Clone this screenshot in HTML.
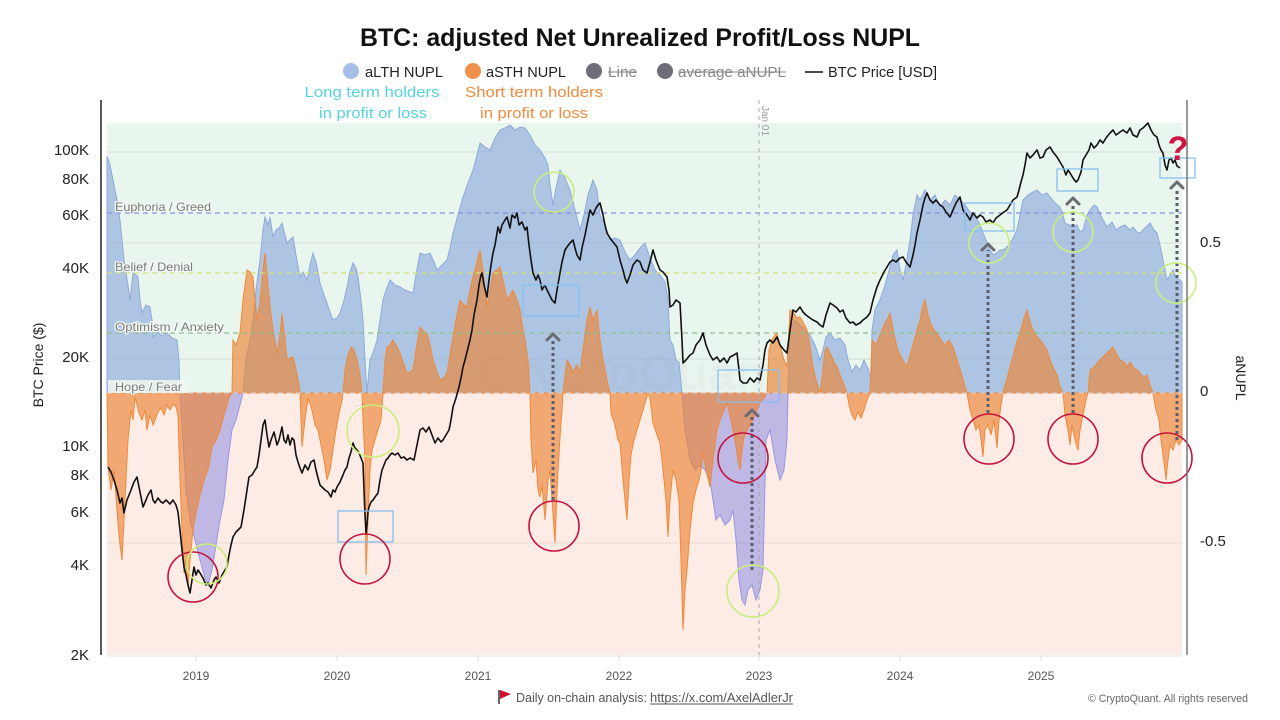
<!DOCTYPE html>
<html><head><meta charset="utf-8"><style>
html,body{margin:0;padding:0;background:#fff;}
svg{display:block;font-family:"Liberation Sans",Arial,sans-serif;}
</style></head><body>
<svg width="1280" height="720" viewBox="0 0 1280 720" xmlns="http://www.w3.org/2000/svg">
<defs>
<clipPath id="cAbove"><rect x="0" y="0" width="1280" height="393"/></clipPath>
<clipPath id="cBelow"><rect x="0" y="393" width="1280" height="327"/></clipPath>
<path id="blueP" d="M107,393 L107,156 110,165 113,180 117,200 120,220 123,250 125,267 128,285 130,300 133,273 136,275 138,277 140,300 142,313 146,305 150,307 152,320 153,337 158,332 162,336 167,333 172,338 177,340 179,360 180,393 183,440 186,490 190,520 195,540 200,560 205,578 208,585 212,570 216,545 220,520 224,500 228,460 232,430 236,420 240,405 243,393 246,360 250,340 253,320 256,290 260,260 263,230 265,217 268,225 270,217 273,237 276,230 279,228 282,223 285,235 287,243 290,240 293,237 296,255 300,277 303,272 307,280 310,265 313,253 316,262 320,283 324,295 327,303 330,312 333,320 337,318 340,313 344,300 347,287 350,272 353,263 356,268 358,277 361,300 363,320 365,360 367,393 369,370 370,360 374,350 377,340 380,320 383,300 386,290 390,280 395,285 400,287 405,290 410,292 413,293 416,275 420,253 425,255 430,253 434,262 437,270 442,265 447,260 450,248 453,233 458,215 463,197 468,183 473,170 477,155 480,143 485,147 490,150 495,138 500,130 505,128 510,125 515,130 520,127 525,128 530,135 535,145 540,150 545,158 548,165 550,185 553,205 556,188 560,170 565,178 570,190 575,210 580,230 584,215 588,195 593,180 597,190 600,215 605,225 610,240 615,238 620,240 625,252 630,260 635,255 640,248 645,243 650,258 655,270 660,275 665,282 668,300 670,340 673,345 676,360 679,362 682,393 685,430 690,460 695,470 700,465 705,470 710,480 713,500 716,520 720,515 725,525 730,520 733,510 736,540 739,580 742,600 745,605 748,590 752,585 756,600 760,590 763,570 766,440 770,430 775,460 780,480 784,470 787,440 788,393 790,330 795,320 800,325 805,330 810,335 815,345 820,360 823,350 826,337 830,333 835,340 840,338 845,345 848,360 852,372 856,365 860,370 864,360 868,368 871,380 872,330 875,310 880,300 885,285 890,267 893,255 897,250 900,270 903,280 906,265 910,240 913,215 917,195 920,200 925,190 930,200 935,195 940,207 945,200 950,205 955,195 960,200 965,205 970,212 975,215 980,225 983,233 986,240 990,250 993,255 997,253 1000,250 1003,250 1007,247 1012,240 1017,230 1020,215 1023,200 1028,195 1033,192 1037,190 1042,195 1047,193 1050,197 1055,203 1060,207 1063,215 1065,223 1069,225 1073,227 1077,225 1080,232 1083,230 1087,215 1090,210 1094,205 1097,207 1102,218 1107,227 1112,222 1116,230 1120,227 1125,225 1130,230 1133,227 1137,232 1140,233 1145,228 1150,223 1154,230 1157,233 1160,245 1163,260 1165,270 1167,280 1170,275 1173,270 1176,278 1180,280 1182,282 1182,393 Z"/>
</defs>

<!-- Title -->
<text x="640" y="46" text-anchor="middle" font-size="25" font-weight="bold" fill="#111" textLength="560" lengthAdjust="spacingAndGlyphs">BTC: adjusted Net Unrealized Profit/Loss NUPL</text>

<!-- Legend -->
<circle cx="351" cy="71" r="8" fill="#a6bde8"/>
<text x="365" y="77" font-size="15" fill="#222" textLength="78" lengthAdjust="spacingAndGlyphs">aLTH NUPL</text>
<circle cx="473" cy="71" r="8" fill="#f0904a"/>
<text x="486" y="77" font-size="15" fill="#222" textLength="80" lengthAdjust="spacingAndGlyphs">aSTH NUPL</text>
<circle cx="594" cy="71" r="8" fill="#6e6e78"/>
<text x="608" y="77" font-size="15" fill="#888" textLength="29" lengthAdjust="spacingAndGlyphs">Line</text>
<line x1="608" y1="72" x2="637" y2="72" stroke="#888" stroke-width="1"/>
<circle cx="665" cy="71" r="8" fill="#6e6e78"/>
<text x="678" y="77" font-size="15" fill="#888" textLength="108" lengthAdjust="spacingAndGlyphs">average aNUPL</text>
<line x1="678" y1="72" x2="786" y2="72" stroke="#888" stroke-width="1"/>
<line x1="805" y1="72" x2="823" y2="72" stroke="#111" stroke-width="1.6"/>
<text x="828" y="77" font-size="15" fill="#222" textLength="109" lengthAdjust="spacingAndGlyphs">BTC Price [USD]</text>

<!-- Annotation texts -->
<text x="372" y="97" text-anchor="middle" font-size="15" fill="#55d2de" textLength="135" lengthAdjust="spacingAndGlyphs">Long term holders</text>
<text x="373" y="118" text-anchor="middle" font-size="15" fill="#55d2de" textLength="108" lengthAdjust="spacingAndGlyphs">in profit or loss</text>
<text x="534" y="97" text-anchor="middle" font-size="15" fill="#f08a3c" textLength="138" lengthAdjust="spacingAndGlyphs">Short term holders</text>
<text x="534" y="118" text-anchor="middle" font-size="15" fill="#f08a3c" textLength="108" lengthAdjust="spacingAndGlyphs">in profit or loss</text>

<!-- Plot background -->
<rect x="107" y="123" width="1075" height="270" fill="#e9f6ee"/>
<rect x="107" y="393" width="1075" height="262" fill="#fdebe5"/>
<g stroke="#d6dfd8" stroke-width="1">
<line x1="107" y1="152" x2="1182" y2="152"/>
<line x1="107" y1="243" x2="1182" y2="243"/>
<line x1="107" y1="359" x2="1182" y2="359"/>
<line x1="107" y1="543" x2="1182" y2="543" stroke="#f0d8d0"/>
</g>

<!-- aLTH blue area -->
<use href="#blueP" clip-path="url(#cAbove)" fill="#88a7dc" fill-opacity="0.62" stroke="#8eaadc" stroke-width="1"/>
<use href="#blueP" clip-path="url(#cBelow)" fill="#8c8ce4" fill-opacity="0.55" stroke="#9898e2" stroke-width="1"/>

<!-- watermark -->
<text x="630" y="390" text-anchor="middle" font-size="50" font-weight="bold" fill="#9aa0a8" opacity="0.07">CryptoQuant</text>

<!-- aSTH orange area -->
<path fill="#ec8434" fill-opacity="0.65" stroke="#ee8a3a" stroke-width="1" d="M107,393 L108,467 111,490 114,470 118,523 120,545 122,560 124,520 126,480 128,440 131,410 133,420 135,397 137,405 139,413 142,420 145,410 147,430 150,415 153,425 155,420 158,412 161,408 164,415 167,405 170,410 173,404 176,407 178,415 180,480 182,530 184,573 186,560 188,587 190,560 193,530 196,513 200,495 204,480 208,470 212,447 216,440 220,430 224,415 227,405 229,397 232,393 233,340 236,345 240,333 243,300 245,285 247,270 250,272 253,277 255,300 257,320 260,303 262,280 265,253 267,275 270,307 273,330 277,353 280,335 282,313 284,330 287,360 290,358 293,357 296,370 299,385 300,393 302,447 305,420 308,398 312,410 315,425 318,430 321,445 324,460 327,480 330,470 333,450 336,430 339,413 342,400 343,393 345,370 348,355 351,347 354,350 357,360 360,375 362,393 363,420 365,460 366,575 368,520 370,470 372,450 375,440 378,430 381,420 383,393 385,360 387,347 390,345 393,340 396,345 400,353 404,365 407,373 410,372 413,370 416,350 420,327 424,332 427,333 430,345 433,360 437,372 440,380 444,378 447,373 450,355 453,337 456,320 460,300 463,304 467,307 470,290 473,277 477,262 480,250 483,270 487,307 490,290 493,273 497,270 500,267 504,285 507,300 510,295 513,290 517,300 520,310 523,330 525,340 528,360 530,393 531,440 533,473 536,460 538,490 540,497 542,485 545,520 548,480 550,470 552,500 555,543 557,490 560,437 562,410 563,393 565,375 567,360 570,365 573,372 577,365 580,373 583,350 587,320 590,307 593,320 597,310 600,340 603,360 606,375 608,385 610,393 611,413 615,425 618,440 620,443 623,480 625,500 627,520 629,480 631,455 634,440 637,430 640,420 643,410 646,400 648,393 650,398 653,423 657,435 660,443 663,470 666,500 668,537 670,500 673,470 676,480 679,500 681,560 683,630 685,590 687,570 690,530 693,503 696,490 699,480 701,470 703,453 706,470 710,487 713,460 717,430 720,420 724,410 727,403 731,420 735,440 738,460 740,470 742,450 744,437 747,430 750,425 753,420 757,410 760,403 764,398 767,393 769,350 772,340 775,335 777,333 780,345 784,360 787,367 789,330 790,310 793,312 797,318 800,317 803,322 807,330 810,345 813,367 816,380 820,393 823,370 825,350 827,347 831,355 834,362 837,367 840,375 844,385 847,393 849,405 852,415 855,420 858,412 861,418 864,410 867,400 870,393 872,340 876,345 880,335 884,325 888,318 890,313 893,330 897,347 900,355 904,362 907,367 910,355 913,345 917,330 920,320 923,305 925,300 928,315 931,325 934,330 937,333 941,340 945,345 949,340 953,347 957,360 961,372 964,383 967,393 970,410 973,420 976,430 979,425 981,440 983,457 985,430 988,425 991,435 994,420 997,448 999,420 1001,405 1003,393 1005,385 1008,375 1012,360 1016,345 1020,333 1024,318 1027,310 1030,322 1033,330 1036,335 1040,340 1044,345 1047,350 1050,360 1053,367 1057,375 1060,387 1063,393 1065,415 1068,430 1070,445 1072,425 1075,440 1078,450 1080,430 1083,415 1086,400 1088,393 1090,370 1094,367 1098,362 1102,358 1107,353 1110,350 1113,347 1117,355 1120,360 1124,362 1127,367 1130,362 1134,368 1137,370 1140,373 1144,378 1147,375 1150,385 1153,393 1156,410 1159,420 1161,440 1163,455 1165,470 1166,480 1168,460 1170,445 1173,450 1176,440 1179,445 1182,440 1182,393 Z"/>

<!-- Level lines -->
<g stroke-width="1.2" stroke-dasharray="5 4" fill="none">
<line x1="107" y1="213" x2="1182" y2="213" stroke="#8a90e0"/>
<line x1="107" y1="273" x2="1182" y2="273" stroke="#d6e07a"/>
<line x1="107" y1="333" x2="1182" y2="333" stroke="#8cc08a"/>
<line x1="107" y1="393" x2="1182" y2="393" stroke="#d8c8c0"/>
</g>
<rect x="108" y="380" width="80" height="13" fill="#eef7f0" opacity="0.85"/>
<g font-size="12" fill="#7a7a7a" stroke="#f2f8f3" stroke-width="2.5" paint-order="stroke" stroke-linejoin="round">
<text x="115" y="211" textLength="96" lengthAdjust="spacingAndGlyphs">Euphoria / Greed</text>
<text x="115" y="271" textLength="78" lengthAdjust="spacingAndGlyphs">Belief / Denial</text>
<text x="115" y="331" textLength="109" lengthAdjust="spacingAndGlyphs">Optimism / Anxiety</text>
<text x="115" y="391" textLength="67" lengthAdjust="spacingAndGlyphs">Hope / Fear</text>
</g>

<!-- Jan 01 vertical dashed line -->
<line x1="759" y1="100" x2="759" y2="655" stroke="#aaaaaa" stroke-width="1" stroke-dasharray="4 4"/>
<text transform="translate(762,106) rotate(90)" font-size="10" fill="#999">Jan 01</text>

<!-- BTC price line -->
<polyline fill="none" stroke="#111" stroke-width="1.6" stroke-linejoin="round" points="108,467 111,472 114,480 117,490 120,503 122,498 124,513 127,500 131,490 134,482 137,477 140,492 143,507 146,500 148,495 151,490 153,500 155,503 158,498 161,502 163,503 166,500 170,504 173,500 176,505 178,512 180,530 182,550 184,567 186,575 188,585 190,593 192,580 194,567 196,575 198,570 200,573 203,578 206,585 208,583 211,588 214,580 216,577 219,583 222,575 225,570 227,567 229,555 231,545 233,537 236,532 238,530 241,527 244,510 247,490 249,477 252,475 255,470 257,467 259,455 261,440 263,425 265,420 267,435 269,447 271,440 274,432 277,445 279,440 282,427 284,440 286,443 288,435 290,445 292,438 294,440 296,455 298,462 300,468 302,473 305,465 308,470 311,462 314,460 316,470 318,478 320,485 322,487 325,490 328,492 331,497 333,490 335,492 337,487 340,482 343,475 345,470 347,467 349,458 351,452 353,443 355,448 357,450 359,453 361,458 363,463 364,490 365,515 366,533 367,525 368,512 369,507 371,502 373,500 375,497 378,493 380,480 382,470 384,465 386,460 388,458 390,455 392,453 395,455 398,453 401,458 404,457 407,460 410,458 414,460 416,450 418,440 420,430 423,428 426,432 429,427 432,435 435,443 438,438 441,442 443,440 446,435 449,430 451,420 453,407 456,398 459,387 461,378 463,367 465,360 467,352 470,340 472,330 474,315 477,300 479,285 481,275 482,273 484,285 487,297 489,280 491,265 493,253 495,245 498,227 500,233 502,225 505,220 507,217 510,228 512,215 515,218 517,213 519,225 522,222 525,230 527,227 529,245 531,260 533,273 536,280 538,275 540,280 542,290 545,285 547,290 550,296 552,300 555,303 557,290 560,273 562,262 565,250 567,247 570,243 573,240 575,248 577,255 580,260 582,248 585,235 588,220 590,210 593,215 596,208 598,205 600,203 603,215 605,225 607,233 610,238 613,242 617,247 620,260 623,270 625,278 627,283 630,275 633,265 637,260 640,262 643,270 647,273 650,262 653,250 656,260 660,270 663,272 667,277 669,290 670,307 673,305 676,300 680,303 682,340 683,363 686,360 690,355 693,353 696,345 700,340 703,333 706,345 710,355 713,360 717,357 720,362 724,358 727,363 730,357 734,355 737,353 739,370 740,380 743,383 747,383 750,378 754,382 757,378 760,380 763,365 765,350 767,343 770,340 773,343 777,337 780,345 784,350 787,353 790,330 793,310 796,312 800,307 803,312 806,315 810,318 813,320 817,322 820,325 823,327 826,315 830,303 833,305 837,308 840,312 843,310 846,318 850,323 853,322 856,325 860,323 863,320 867,317 870,313 873,300 877,287 880,280 884,272 887,267 890,262 893,260 896,262 900,258 903,257 906,262 910,267 913,255 915,245 917,233 920,220 923,205 925,198 927,193 930,200 933,203 936,200 940,205 943,207 946,212 950,217 953,210 956,203 960,197 963,210 967,215 970,220 973,213 977,218 980,215 983,217 986,222 990,220 993,223 996,218 1000,215 1004,212 1007,210 1010,205 1013,200 1017,197 1019,190 1021,182 1023,175 1025,165 1027,153 1030,158 1033,155 1037,150 1040,158 1043,157 1046,150 1050,147 1053,152 1057,157 1060,162 1063,167 1066,175 1068,170 1070,173 1073,178 1076,182 1078,180 1081,172 1083,160 1086,155 1089,150 1091,143 1094,148 1097,145 1100,140 1103,143 1106,138 1110,133 1113,130 1116,135 1120,132 1123,130 1127,133 1130,128 1133,135 1137,137 1140,130 1143,128 1146,125 1148,123 1151,130 1154,135 1157,137 1159,145 1161,150 1163,153 1165,165 1167,170 1169,160 1171,158 1173,163 1175,160 1177,166 1180,168"/>

<!-- Dotted arrows -->
<g stroke="#5a5e6e" stroke-width="3" stroke-dasharray="3 3" fill="none">
<line x1="553" y1="500" x2="553" y2="340"/>
<line x1="752" y1="570" x2="752" y2="416"/>
<line x1="988" y1="413" x2="988" y2="250"/>
<line x1="1073" y1="413" x2="1073" y2="204"/>
<line x1="1177" y1="440" x2="1177" y2="188"/>
</g>
<g stroke="#6a6a72" stroke-width="3" fill="none" stroke-linecap="round" stroke-linejoin="round">
<polyline points="547,340 553,334 559,340"/>
<polyline points="746,416 752,410 758,416"/>
<polyline points="982,250 988,244 994,250"/>
<polyline points="1067,204 1073,198 1079,204"/>
<polyline points="1171,188 1177,182 1183,188"/>
</g>

<!-- Blue rectangles -->
<g fill="none" stroke="#86c0f2" stroke-width="1.3">
<rect x="338" y="511" width="55" height="31"/>
<rect x="523" y="285" width="56" height="31"/>
<rect x="718" y="370" width="61" height="32"/>
<rect x="965" y="203" width="49" height="28"/>
<rect x="1057" y="169" width="41" height="22"/>
<rect x="1160" y="158" width="35" height="20"/>
</g>

<!-- Red circles -->
<g fill="none" stroke="#c3143e" stroke-width="1.6">
<circle cx="193" cy="577" r="25"/>
<circle cx="365" cy="559" r="25"/>
<circle cx="554" cy="526" r="25"/>
<circle cx="743" cy="458" r="25"/>
<circle cx="989" cy="439" r="25"/>
<circle cx="1073" cy="439" r="25"/>
<circle cx="1167" cy="458" r="25"/>
</g>
<!-- Green circles -->
<g fill="none" stroke="#c8ef7c" stroke-width="1.6">
<circle cx="207" cy="564" r="20"/>
<circle cx="373" cy="431" r="26"/>
<circle cx="554" cy="192" r="20"/>
<circle cx="753" cy="591" r="26"/>
<circle cx="989" cy="243" r="20"/>
<circle cx="1073" cy="232" r="20"/>
<circle cx="1176" cy="283" r="20"/>
</g>

<!-- Question mark -->
<text x="1178" y="160" text-anchor="middle" font-size="34" font-weight="bold" fill="#cf1440">?</text>

<!-- Axes -->
<line x1="101" y1="100" x2="101" y2="655" stroke="#222" stroke-width="1.5"/>
<line x1="1187" y1="100" x2="1187" y2="655" stroke="#777" stroke-width="1.5"/>
<line x1="107" y1="656" x2="1182" y2="656" stroke="#e4e4e4" stroke-width="1"/>
<g stroke="#dddddd" stroke-width="1">
<line x1="196" y1="655" x2="196" y2="661"/>
<line x1="337" y1="655" x2="337" y2="661"/>
<line x1="478" y1="655" x2="478" y2="661"/>
<line x1="619" y1="655" x2="619" y2="661"/>
<line x1="759" y1="655" x2="759" y2="661"/>
<line x1="900" y1="655" x2="900" y2="661"/>
<line x1="1041" y1="655" x2="1041" y2="661"/>
</g>

<!-- Left axis labels -->
<g font-size="15" fill="#222" text-anchor="end">
<text x="89" y="155">100K</text>
<text x="89" y="184">80K</text>
<text x="89" y="220">60K</text>
<text x="89" y="273">40K</text>
<text x="89" y="362">20K</text>
<text x="89" y="451">10K</text>
<text x="89" y="480">8K</text>
<text x="89" y="517">6K</text>
<text x="89" y="570">4K</text>
<text x="89" y="660">2K</text>
</g>
<text transform="translate(43,365) rotate(-90)" text-anchor="middle" font-size="14" fill="#222">BTC Price ($)</text>

<!-- Right axis labels -->
<g font-size="15" fill="#222">
<text x="1200" y="247">0.5</text>
<text x="1200" y="396">0</text>
<text x="1200" y="546">-0.5</text>
</g>
<text transform="translate(1236,378) rotate(90)" text-anchor="middle" font-size="14" fill="#222">aNUPL</text>

<!-- X axis labels -->
<g font-size="12" fill="#555" text-anchor="middle">
<text x="196" y="680">2019</text>
<text x="337" y="680">2020</text>
<text x="478" y="680">2021</text>
<text x="619" y="680">2022</text>
<text x="759" y="680">2023</text>
<text x="900" y="680">2024</text>
<text x="1041" y="680">2025</text>
</g>

<!-- Footer -->
<line x1="499" y1="690" x2="499" y2="704" stroke="#333" stroke-width="1.5"/>
<polygon points="500,690 511,694 500,699" fill="#d0102c"/>
<text x="516" y="702" font-size="13" fill="#555" textLength="131" lengthAdjust="spacingAndGlyphs">Daily on-chain analysis:</text>
<text x="650" y="702" font-size="13" fill="#555" textLength="143" lengthAdjust="spacingAndGlyphs">https://x.com/AxelAdlerJr</text>
<line x1="650" y1="704" x2="793" y2="704" stroke="#555" stroke-width="1"/>
<text x="1248" y="702" text-anchor="end" font-size="11" fill="#666" textLength="160" lengthAdjust="spacingAndGlyphs">© CryptoQuant. All rights reserved</text>
</svg>
</body></html>
